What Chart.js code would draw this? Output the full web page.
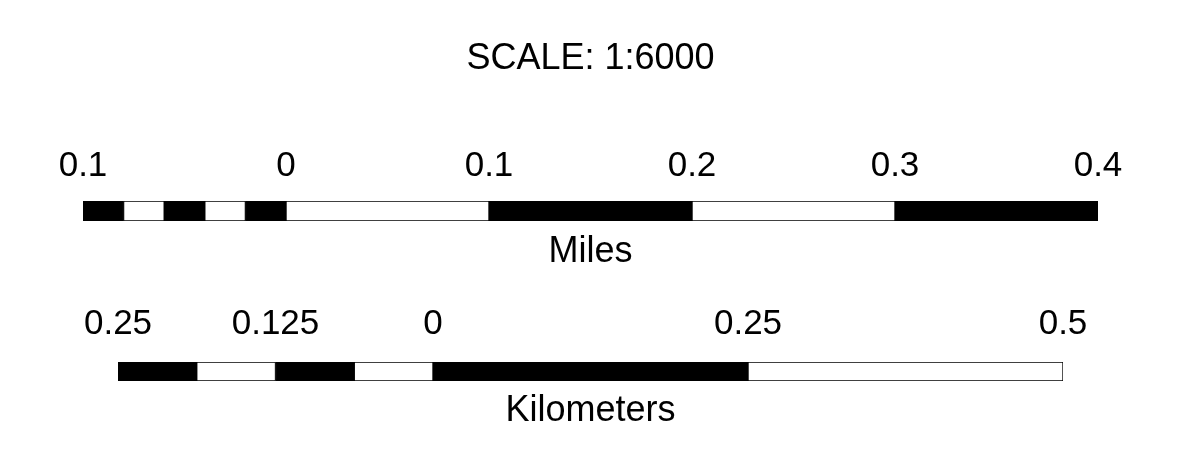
<!DOCTYPE html>
<html>
<head>
<meta charset="utf-8">
<script src="https://cdn.jsdelivr.net/npm/chart.js@4/dist/chart.umd.min.js"></script>
<style>
  html, body { margin: 0; padding: 0; background: #fff; }
  #wrap { position: relative; width: 1177px; height: 461px; overflow: hidden; }
  #c1 { position: absolute; left: 0; top: 0; }
  #c2 { position: absolute; left: 0; top: 290px; }
</style>
</head>
<body>
<div id="wrap">
  <canvas id="c1" width="1177" height="290"></canvas>
  <canvas id="c2" width="1177" height="171"></canvas>
</div>
<script>
// ---- data ----
const chartTitle = 'SCALE: 1:6000';

const milesName = 'Miles';
const milesTicks = [-0.1, 0, 0.1, 0.2, 0.3, 0.4];
const milesTickLabels = ['0.1', '0', '0.1', '0.2', '0.3', '0.4'];
const milesStarts = [-0.1, -0.08, -0.06, -0.04, -0.02, 0, 0.1, 0.2, 0.3];
const milesEnds   = [-0.08, -0.06, -0.04, -0.02, 0, 0.1, 0.2, 0.3, 0.4];
const milesFills  = ['#000', '#fff', '#000', '#fff', '#000', '#fff', '#000', '#fff', '#000'];

const kmName = 'Kilometers';
const kmTicks = [-0.25, -0.125, 0, 0.25, 0.5];
const kmTickLabels = ['0.25', '0.125', '0', '0.25', '0.5'];
const kmStarts = [-0.25, -0.1875, -0.125, -0.0625, 0, 0.25];
const kmEnds   = [-0.1875, -0.125, -0.0625, 0, 0.25, 0.5];
const kmFills  = ['#000', '#fff', '#000', '#fff', '#000', '#fff'];

// ---- drawing ----
const FONT = 'Liberation Sans, Arial, Helvetica, sans-serif';

function makeScaleBar(canvasId, cfg) {
  const datasets = cfg.starts.map((s, i) => ({
    data: [[s, cfg.ends[i]]],
    backgroundColor: cfg.fills[i],
    borderColor: '#000',
    borderWidth: 1,
    borderSkipped: false,
    grouped: false,
    barPercentage: 1,
    categoryPercentage: 1,
    xAxisID: 'xt'
  }));
  return new Chart(document.getElementById(canvasId), {
    type: 'bar',
    data: { labels: [cfg.name], datasets },
    options: {
      indexAxis: 'y',
      responsive: false,
      animation: false,
      devicePixelRatio: 1,
      layout: { padding: cfg.padding },
      plugins: {
        legend: { display: false },
        tooltip: { enabled: false },
        title: cfg.title ? {
          display: true,
          text: cfg.title,
          color: '#000',
          font: { family: FONT, size: 36, weight: 'normal', lineHeight: 1.2 },
          padding: 0
        } : { display: false }
      },
      scales: {
        y: { type: 'category', display: false },
        xt: {
          type: 'linear',
          position: 'top',
          min: cfg.ticks[0],
          max: cfg.ticks[cfg.ticks.length - 1],
          grid: { display: false, drawTicks: false },
          border: { display: false },
          afterBuildTicks: s => { s.ticks = cfg.ticks.map(v => ({ value: v })); },
          afterFit: s => { s.height = cfg.topH; },
          ticks: {
            autoSkip: false,
            maxRotation: 0,
            minRotation: 0,
            padding: cfg.tickPad,
            color: '#000',
            font: { family: FONT, size: 35, lineHeight: 1.2 },
            callback: (v, i) => cfg.tickLabels[i]
          }
        },
        xb: {
          type: 'linear',
          position: 'bottom',
          min: 0, max: 1,
          grid: { display: false, drawTicks: false },
          border: { display: false },
          ticks: { display: false },
          afterFit: s => { s.height = cfg.botH; },
          title: {
            display: true,
            text: cfg.name,
            color: '#000',
            padding: 0,
            font: { family: FONT, size: 36, lineHeight: 1.2 }
          }
        }
      }
    }
  });
}

makeScaleBar('c1', {
  name: milesName, title: chartTitle,
  ticks: milesTicks, tickLabels: milesTickLabels,
  starts: milesStarts, ends: milesEnds, fills: milesFills,
  padding: { top: 37.4, bottom: 16.4, left: 83, right: 79 },
  topH: 120.4, tickPad: 13.5, botH: 52.6
});

makeScaleBar('c2', {
  name: kmName, title: null,
  ticks: kmTicks, tickLabels: kmTickLabels,
  starts: kmStarts, ends: kmEnds, fills: kmFills,
  padding: { top: 0, bottom: 27.9, left: 118, right: 114 },
  topH: 72, tickPad: 17, botH: 52.1
});
</script>
</body>
</html>
